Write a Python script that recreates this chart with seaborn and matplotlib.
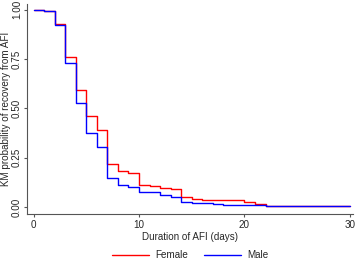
import seaborn as sns
import matplotlib
matplotlib.use("Agg")
import matplotlib.pyplot as plt
import pandas as pd

sns.set_theme(style="white")
plt.rcParams['font.family'] = ['Liberation Sans', 'DejaVu Sans']

# Kaplan-Meier estimates, one value per day (step-post)
days = list(range(0, 31))
female = [1.000, 0.995, 0.929, 0.760, 0.595, 0.462, 0.389, 0.217, 0.183, 0.171,
          0.113, 0.107, 0.097, 0.089, 0.051, 0.042, 0.037, 0.037, 0.034, 0.034,
          0.027, 0.016, 0.007, 0.007, 0.007, 0.007, 0.007, 0.005, 0.005, 0.005,
          0.005]
male = [1.000, 0.995, 0.922, 0.732, 0.528, 0.376, 0.305, 0.146, 0.112, 0.103,
        0.073, 0.073, 0.062, 0.052, 0.027, 0.019, 0.019, 0.014, 0.010, 0.010,
        0.010, 0.008, 0.007, 0.005, 0.005, 0.005, 0.005, 0.005, 0.005, 0.005,
        0.005]
groups = ["Female", "Male"]
y_ticks = [0.00, 0.25, 0.50, 0.75, 1.00]
x_ticks = [0, 10, 20, 30]

df = pd.DataFrame({
    "day": days + days,
    "km": female + male,
    "sex": [groups[0]] * len(days) + [groups[1]] * len(days),
})

fs = 7.1
fig = plt.figure(figsize=(3.58, 2.60), dpi=100)
ax = fig.add_axes([0.0768, 0.177, 0.909, 0.808])

sns.lineplot(data=df, x="day", y="km", hue="sex", hue_order=groups,
             palette={"Female": "#ff0000", "Male": "#0000ff"},
             drawstyle="steps-post", linewidth=1.0, ax=ax)

ax.set_xlim(-0.57, 30.28)
ax.set_ylim(-0.036, 1.03)
ax.set_xticks(x_ticks)
ax.set_yticks(y_ticks)
ax.set_yticklabels([f"{v:.2f}" for v in y_ticks], rotation=90, va="center")

for side in ["top", "right"]:
    ax.spines[side].set_visible(False)
for side in ["left", "bottom"]:
    ax.spines[side].set_color("#555555")
    ax.spines[side].set_linewidth(0.8)
ax.tick_params(axis="both", which="major", direction="out", length=2.5,
               width=0.8, color="#555555", labelsize=fs, pad=2,
               bottom=True, left=True)
ax.tick_params(axis="y", pad=1.5)

ax.set_xlabel("Duration of AFI (days)", fontsize=fs, labelpad=1)
ax.set_ylabel("KM probability of recovery from AFI", fontsize=fs)
ax.yaxis.set_label_coords(-0.052, 0.5)

ax.legend(loc="upper center", bbox_to_anchor=(0.5, -0.13), ncol=2,
          frameon=False, fontsize=fs, handlelength=3.8, columnspacing=1.6,
          handletextpad=0.6, title=None)

fig.savefig("out.png", dpi=100)
